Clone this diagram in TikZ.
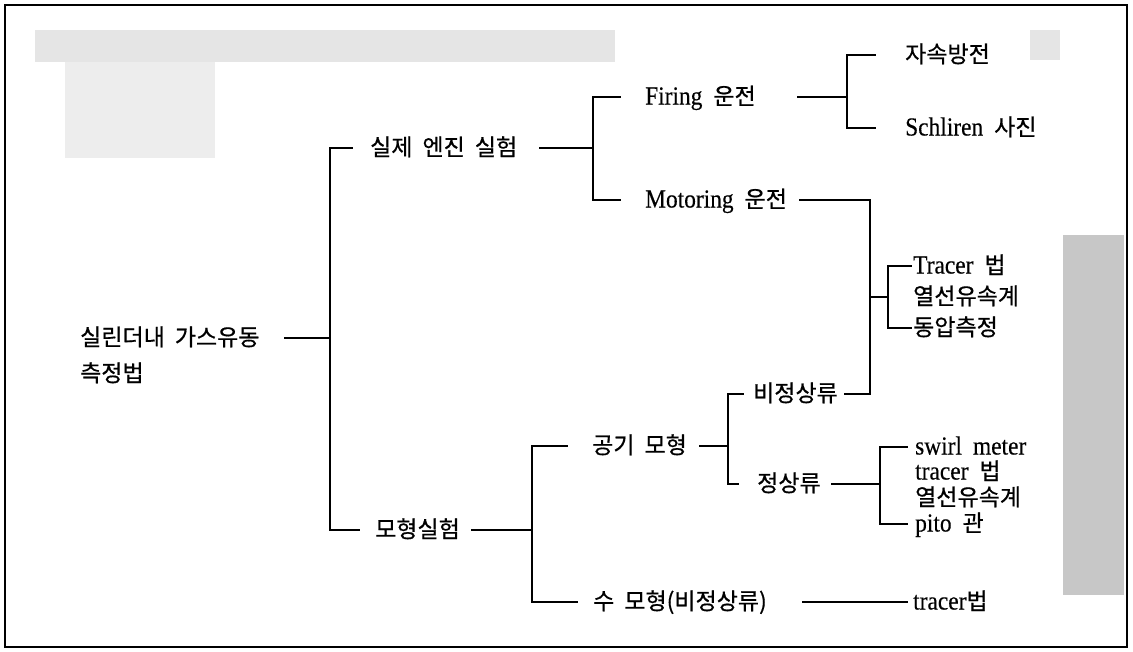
\documentclass[tikz,border=0pt]{standalone}
\usepackage{fontspec}
\setmainfont[FakeStretch=0.9,FakeBold=0.3]{Liberation Serif}
\newfontfamily\krfont[FakeBold=0.6]{Noto Sans CJK KR}
\newcommand\kor[1]{{\krfont\fontsize{23pt}{27pt}\selectfont #1}}
\newcommand\gap{\hspace{11pt}}
\newcommand\kgap{\hspace{10pt}}
\begin{document}
\begin{tikzpicture}[x=1pt,y=-1pt,
  lbl/.style={anchor=west,inner sep=0pt,text height=15pt,text depth=0pt,
              font=\fontsize{26pt}{30pt}\selectfont},
  conn/.style={line width=2pt,line cap=rect},
  noise/.style={fill=black!10,draw=none}]
\useasboundingbox (0,0) rectangle (1133,651);
% scan shading
\fill[noise] (35,30) rectangle (615,62);
\fill[noise,fill=black!7] (65,62) rectangle (215,158);
\fill[noise] (1030,30) rectangle (1060,60);
\fill[noise,fill=black!22] (1063,235) rectangle (1124,595);
% frame
\draw[line width=2.4pt] (5,5) rectangle (1127,647);
% nodes
\node[lbl] (root) at (80,338) {\kor{실린더내\kgap 가스유동}};
\node[lbl] (rootb) at (80,374) {\kor{측정법}};
\node[lbl] (real) at (370,148) {\kor{실제\kgap 엔진\kgap 실험}};
\node[lbl] (firing) at (645,97) {Firing\gap\kor{운전}};
\node[lbl] (motoring) at (645,200) {Motoring\gap\kor{운전}};
\node[lbl] (jasok) at (905,55) {\kor{자속방전}};
\node[lbl] (schl) at (905,128) {Schliren\gap\kor{사진}};
\node[lbl] (tr1) at (913,266) {Tracer\gap\kor{법}};
\node[lbl] (hw1) at (913,297) {\kor{열선유속계}};
\node[lbl] (dyn) at (913,328) {\kor{동압측정}};
\node[lbl] (model) at (375,530) {\kor{모형실험}};
\node[lbl] (air) at (592,446) {\kor{공기\kgap 모형}};
\node[lbl] (water) at (593,602) {\kor{수\kgap 모형(비정상류)}};
\node[lbl] (unst) at (753,394) {\kor{비정상류}};
\node[lbl] (st) at (757,484) {\kor{정상류}};
\node[lbl] (sw) at (915,447) {swirl\gap meter};
\node[lbl] (tr2) at (915,472) {tracer\gap\kor{법}};
\node[lbl] (hw2) at (915,498) {\kor{열선유속계}};
\node[lbl] (pito) at (915,524) {pito\gap\kor{관}};
\node[lbl] (tr3) at (913,602) {tracer\kor{법}};
% bar positions
\coordinate (b1) at (330,0);
\coordinate (b2) at (593,0);
\coordinate (b3) at (847,0);
\coordinate (b4) at (870,0);
\coordinate (b5) at (888,0);
\coordinate (b6) at (532,0);
\coordinate (b7) at (728,0);
\coordinate (b8) at (880,0);
% stub starts
\coordinate (s1) at (285,0);
\coordinate (s2) at (540,0);
\coordinate (s3) at (798,0);
\coordinate (s4) at (800,0);
\coordinate (s5) at (845,0);
\coordinate (s6) at (472,0);
\coordinate (s7) at (700,0);
\coordinate (s8) at (832,0);
\coordinate (s9) at (803,0);
% connectors
\draw[conn] (root.east -| s1) -- (root.east -| b1);
\draw[conn] ([xshift=-18pt]real.west) -- (real.west -| b1) -- (model.west -| b1) -- ([xshift=-16pt]model.west);
\draw[conn] (real.east -| s2) -- (real.east -| b2);
\draw[conn] ([xshift=-25pt]firing.west) -- (firing.west -| b2) -- (motoring.west -| b2) -- ([xshift=-25pt]motoring.west);
\draw[conn] (firing.east -| s3) -- (firing.east -| b3);
\draw[conn] ([xshift=-30pt]jasok.west) -- (jasok.west -| b3) -- (schl.west -| b3) -- ([xshift=-30pt]schl.west);
\draw[conn] (motoring.east -| s4) -- (motoring.east -| b4) -- (unst.east -| b4) -- (unst.east -| s5);
\draw[conn] (hw1.west -| b4) -- (hw1.west -| b5);
\draw[conn] ([xshift=-2pt]tr1.west) -- (tr1.west -| b5) -- (dyn.west -| b5) -- ([xshift=-2pt]dyn.west);
\draw[conn] (model.east -| s6) -- (model.east -| b6);
\draw[conn] ([xshift=-25pt]air.west) -- (air.west -| b6) -- (water.west -| b6) -- ([xshift=-16pt]water.west);
\draw[conn] (air.east -| s7) -- (air.east -| b7);
\draw[conn] ([xshift=-10pt]unst.west) -- (unst.west -| b7) -- (st.west -| b7) -- ([xshift=-19pt]st.west);
\draw[conn] (st.east -| s8) -- (st.east -| b8);
\draw[conn] ([xshift=-8pt]sw.west) -- (sw.west -| b8) -- (pito.west -| b8) -- ([xshift=-8pt]pito.west);
\draw[conn] (water.east -| s9) -- ([xshift=-6pt]tr3.west);
\end{tikzpicture}
\end{document}
